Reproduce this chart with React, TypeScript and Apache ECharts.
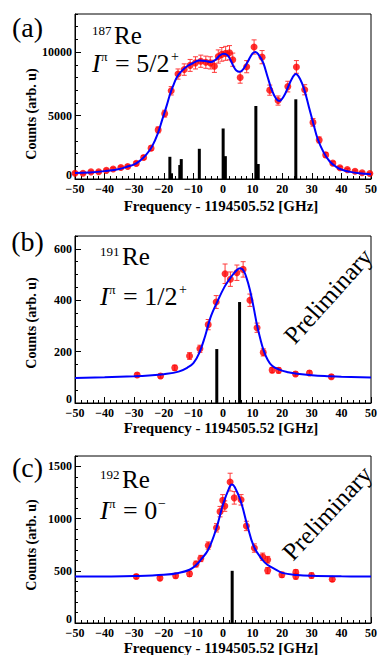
import React, { useEffect, useRef } from "react";
import * as echarts from "echarts";

// ---------- Panel (a): 187Re ----------
const aX = [-50, -47.3, -44.6, -42, -39.4, -37.1, -34.5, -32.2, -29.3, -26.8, -24.3, -21.9, -19.7, -17.5, -15.2, -13.1, -11.1, -9.3, -7.5, -5.8, -4.3, -2.9, -1.6, -0.4, 0.9, 2.2, 3.3, 5.8, 8.0, 10.5, 13.2, 15.8, 18.6, 21.9, 24.8, 27.6, 30.4, 32.5, 34.7, 37.1, 39.5, 42, 44.6, 47, 49.6];
const aY = [450, 460, 560, 570, 680, 790, 900, 990, 1230, 1700, 2430, 3870, 5150, 6950, 8270, 8620, 8950, 9150, 9280, 9200, 9150, 8880, 9650, 9820, 9900, 9950, 9400, 8000, 8850, 10400, 9600, 7000, 6180, 7280, 8830, 7030, 4460, 3080, 1900, 1250, 880, 740, 610, 490, 430];
const aErr = [80, 80, 90, 90, 100, 100, 110, 110, 130, 150, 180, 230, 270, 330, 400, 450, 470, 480, 480, 480, 480, 480, 520, 540, 550, 560, 520, 450, 480, 560, 520, 400, 360, 420, 500, 400, 300, 230, 180, 140, 110, 100, 90, 80, 80];
const aFitX = [-50, -45, -40, -35, -32, -30, -28, -26, -24, -22, -20.5, -19, -18, -17, -15.5, -14, -12, -10, -8, -6, -4, -2.5, -1, 0.3, 1.5, 2.5, 3.5, 4.5, 5.7, 7, 8.5, 10, 11, 12, 13.5, 15, 16.5, 18, 19, 20.5, 22, 23.5, 24.6, 26, 27.5, 29, 30.5, 32, 34, 36, 38, 40, 43, 46, 50];
const aFitY = [470, 520, 620, 780, 1000, 1150, 1450, 1900, 2550, 3600, 4700, 5800, 6600, 7250, 8050, 8500, 8900, 9150, 9330, 9300, 9220, 9400, 9750, 9870, 9750, 9400, 8900, 8550, 8450, 8700, 9300, 9900, 10000, 9800, 9200, 8100, 7000, 6300, 6150, 6500, 7250, 8000, 8280, 7900, 7000, 5700, 4400, 3150, 2100, 1400, 1000, 750, 560, 450, 380];
const aStickX = [-17.95, -17.4, -14.1, -14.6, -8.0, 0.05, 0.8, 11.1, 11.9, 24.6];
const aStickH = [1750, 450, 1570, 1100, 2380, 3980, 1800, 5760, 1180, 6280];

// ---------- Panel (b): 191Re ----------
const bX = [-29.0, -21.1, -16.3, -11.3, -7.8, -5.0, -2.3, 0.7, 2.5, 4.7, 6.8, 9.1, 11.5, 13.6, 16.6, 18.8, 24.5, 29.2, 36.6];
const bY = [109, 105, 137, 183, 211, 305, 393, 503, 482, 507, 520, 400, 293, 197, 128, 127, 113, 117, 102];
const bErr = [8, 8, 10, 13, 14, 20, 25, 38, 28, 30, 30, 24, 18, 14, 10, 10, 8, 8, 8];
const bFitX = [-50, -40, -30, -25, -20, -15, -12, -10, -8, -6, -5, -4, -2.3, 0.5, 2.5, 4.7, 5.8, 6.9, 8, 9.1, 10.3, 11.5, 12.6, 13.7, 15, 16.6, 19, 22, 25, 30, 36, 40, 50];
const bFitY = [97, 100, 104, 107, 112, 122, 138, 155, 195, 262, 303, 340, 385, 452, 487, 518, 524, 516, 485, 440, 375, 303, 250, 206, 170, 145, 130, 120, 114, 108, 104, 102, 99];
const bStickX = [-2.1, 5.6];
const bStickH = [210, 393];

// ---------- Panel (c): 192Re ----------
const cX = [-29.3, -21.3, -16.0, -11.3, -9.1, -7.5, -5.0, -2.2, -1.0, -0.1, 0.6, 2.4, 3.8, 6.1, 7.9, 10.6, 13.4, 15.1, 15.1, 19.9, 24.6, 24.6, 29.9, 36.9];
const cY = [445, 430, 452, 471, 565, 618, 742, 912, 1067, 1175, 1120, 1350, 1199, 1180, 930, 718, 635, 606, 502, 462, 485, 447, 455, 420];
const cErr = [20, 20, 22, 25, 28, 30, 35, 40, 50, 55, 50, 85, 60, 50, 45, 40, 35, 32, 30, 25, 25, 25, 25, 22];
const cFitX = [-50, -40, -30, -20, -15, -11.3, -9, -7.5, -5, -2.2, 0, 2, 3, 4, 6, 8, 10.4, 13.3, 15, 18, 20, 25, 30, 40, 50];
const cFitY = [445, 446, 450, 462, 480, 510, 558, 606, 702, 910, 1135, 1288, 1327, 1301, 1167, 958, 734, 606, 558, 510, 480, 460, 452, 447, 445];
const cStickX = [3.1];
const cStickH = [500];

// ---------- Axes ----------
const xMin = -50;
const xMax = 50;
const xStep = 10;
const yMaxes = [13000, 650, 1600];
const yMajor = [5000, 200, 500];
const yMinor = [1000, 50, 100];

const FONT = "Liberation Serif";
const RED = "#ff0000";
const ERR = "#ff3b3b";
const BLUE = "#0000ff";

const panels = [
  { x: aX, y: aY, e: aErr, fx: aFitX, fy: aFitY, sx: aStickX, sh: aStickH },
  { x: bX, y: bY, e: bErr, fx: bFitX, fy: bFitY, sx: bStickX, sh: bStickH },
  { x: cX, y: cY, e: cErr, fx: cFitX, fy: cFitY, sx: cStickX, sh: cStickH },
];

const grids = [
  { left: 75, top: 14, width: 302, height: 165 },
  { left: 75, top: 236, width: 302, height: 167 },
  { left: 75, top: 456, width: 302, height: 167 },
];

function txt(text: string, x: number, y: number, size: number, extra: any = {}) {
  return {
    type: "text",
    x,
    y,
    z: 100,
    style: {
      text,
      fontFamily: FONT,
      fontSize: size,
      fill: "#000",
      align: "left",
      verticalAlign: "middle",
      ...extra,
    },
  };
}

export default function App() {
  const ref = useRef<HTMLDivElement>(null);
  useEffect(() => {
    if (!ref.current) return;
    const chart = echarts.init(ref.current, undefined, { renderer: "svg" });

    const xAxes = grids.map((_, i) => ({
      type: "value",
      gridIndex: i,
      min: xMin,
      max: xMax,
      interval: xStep,
      axisLine: { show: true, onZero: false, lineStyle: { color: "#000", width: 1 } },
      axisTick: { show: true, inside: true, length: 6, lineStyle: { color: "#000" } },
      minorTick: { show: true, splitNumber: 5, length: 3, lineStyle: { color: "#000" } },
      splitLine: { show: false },
      minorSplitLine: { show: false },
      axisLabel: {
        margin: 4,
        fontFamily: FONT,
        fontWeight: "bold",
        fontSize: 12,
        color: "#000",
        formatter: (v: number) => (v < 0 ? "\u2212" + Math.abs(v) : String(v)),
      },
    }));

    const yAxes: any[] = [];
    grids.forEach((_, i) => {
      yAxes.push({
        type: "value",
        gridIndex: i,
        position: "left",
        min: 0,
        max: yMaxes[i],
        interval: yMajor[i],
        axisLine: { show: true, onZero: false, lineStyle: { color: "#000", width: 1 } },
        axisTick: { show: true, inside: true, length: 6, lineStyle: { color: "#000" } },
        splitLine: { show: false },
        axisLabel: {
          margin: 3,
          fontFamily: FONT,
          fontWeight: "bold",
          fontSize: 12,
          color: "#000",
          showMaxLabel: false,
          formatter: (v: number) => (v === 0 ? "{z|0}" : String(v)),
          rich: {
            z: { fontFamily: FONT, fontWeight: "bold", fontSize: 12, color: "#000", padding: [0, 0, 9, 0] },
          },
        },
      });
      yAxes.push({
        type: "value",
        gridIndex: i,
        position: "left",
        min: 0,
        max: yMaxes[i],
        interval: yMinor[i],
        axisLine: { show: false, onZero: false },
        axisTick: { show: true, inside: true, length: 3, lineStyle: { color: "#000" } },
        splitLine: { show: false },
        axisLabel: { show: false },
      });
    });

    const series: any[] = [];
    panels.forEach((p, i) => {
      series.push({
        type: "custom",
        xAxisIndex: i,
        yAxisIndex: 2 * i,
        z: 2,
        data: p.sx.map((x, k) => [x, p.sh[k]]),
        encode: { x: 0, y: 1 },
        renderItem: (params: any, api: any) => {
          const x = api.value(0);
          const h = api.value(1);
          const p0 = api.coord([x, 0]);
          const p1 = api.coord([x, h]);
          return {
            type: "rect",
            shape: { x: p0[0] - 1.5, y: p1[1], width: 3, height: p0[1] - p1[1] },
            style: { fill: "#000" },
          };
        },
      });
      series.push({
        type: "custom",
        xAxisIndex: i,
        yAxisIndex: 2 * i,
        z: 3,
        data: p.x.map((x, k) => [x, p.y[k], p.e[k]]),
        encode: { x: 0, y: 1 },
        renderItem: (params: any, api: any) => {
          const x = api.value(0);
          const y = api.value(1);
          const e = api.value(2);
          const t = api.coord([x, y + e]);
          const b = api.coord([x, y - e]);
          const cap = 2.5;
          const st = { stroke: ERR, lineWidth: 1 };
          return {
            type: "group",
            children: [
              { type: "line", shape: { x1: t[0], y1: t[1], x2: b[0], y2: b[1] }, style: st },
              { type: "line", shape: { x1: t[0] - cap, y1: t[1], x2: t[0] + cap, y2: t[1] }, style: st },
              { type: "line", shape: { x1: b[0] - cap, y1: b[1], x2: b[0] + cap, y2: b[1] }, style: st },
            ],
          };
        },
      });
      series.push({
        type: "scatter",
        xAxisIndex: i,
        yAxisIndex: 2 * i,
        z: 4,
        symbol: "circle",
        symbolSize: 7,
        itemStyle: { color: RED },
        data: p.x.map((x, k) => [x, p.y[k]]),
      });
      series.push({
        type: "line",
        xAxisIndex: i,
        yAxisIndex: 2 * i,
        z: 5,
        smooth: 0.4,
        showSymbol: false,
        symbol: "none",
        lineStyle: { color: BLUE, width: 2 },
        data: p.fx.map((x, k) => [x, p.fy[k]]),
      });
    });

    const graphic: any[] = [];
    const xTitleY = [206, 428, 648];
    const yTitleY = [114, 323, 545];
    xTitleY.forEach((yy) =>
      graphic.push(txt("Frequency - 1194505.52 [GHz]", 221, yy, 15, { fontWeight: "bold", align: "center" }))
    );
    yTitleY.forEach((yy) =>
      graphic.push({
        ...txt("Counts (arb. u)", 0, 0, 14, { fontWeight: "bold", align: "center" }),
        x: 31,
        y: yy,
        rotation: Math.PI / 2,
      })
    );
    // panel letters
    graphic.push(txt("(a)", 27.5, 27, 28, { align: "center" }));
    graphic.push(txt("(b)", 27.5, 241, 28, { align: "center" }));
    graphic.push(txt("(c)", 27.5, 467, 28, { align: "center" }));
    // isotope labels
    const iso = [
      { n: "187", x: 92, y: 35, rest: "= 5/2", sup: "+", supX: 171 },
      { n: "191", x: 100, y: 256, rest: "= 1/2", sup: "+", supX: 179 },
      { n: "192", x: 100, y: 479, rest: "= 0", sup: "\u2212", supX: 158 },
    ];
    const spinY = [63, 296, 510];
    iso.forEach((s, i) => {
      graphic.push(txt(s.n, s.x, s.y - 5, 13));
      graphic.push(txt("Re", s.x + 22, s.y, 25));
      const sy = spinY[i];
      graphic.push(txt("I", s.x, sy, 26, { fontStyle: "italic" }));
      graphic.push(txt("\u03c0", s.x + 9, sy - 7, 13));
      graphic.push(txt(s.rest, s.x + 23, sy, 26));
      graphic.push(txt(s.sup, s.supX, sy - 7, 14));
    });
    // Preliminary
    graphic.push({ ...txt("Preliminary", 0, 0, 25, { align: "center" }), x: 328, y: 296, rotation: (48 * Math.PI) / 180 });
    graphic.push({ ...txt("Preliminary", 0, 0, 25, { align: "center" }), x: 327, y: 513, rotation: (47 * Math.PI) / 180 });

    chart.setOption({
      animation: false,
      backgroundColor: "#fff",
      grid: grids.map((g) => ({ ...g, show: true, borderColor: "#000", borderWidth: 1, backgroundColor: "transparent" })),
      xAxis: xAxes,
      yAxis: yAxes,
      series,
      graphic,
    });
    return () => chart.dispose();
  }, []);
  return <div ref={ref} style={{ position: "fixed", left: 0, top: 0, width: 380, height: 655 }} />;
}
